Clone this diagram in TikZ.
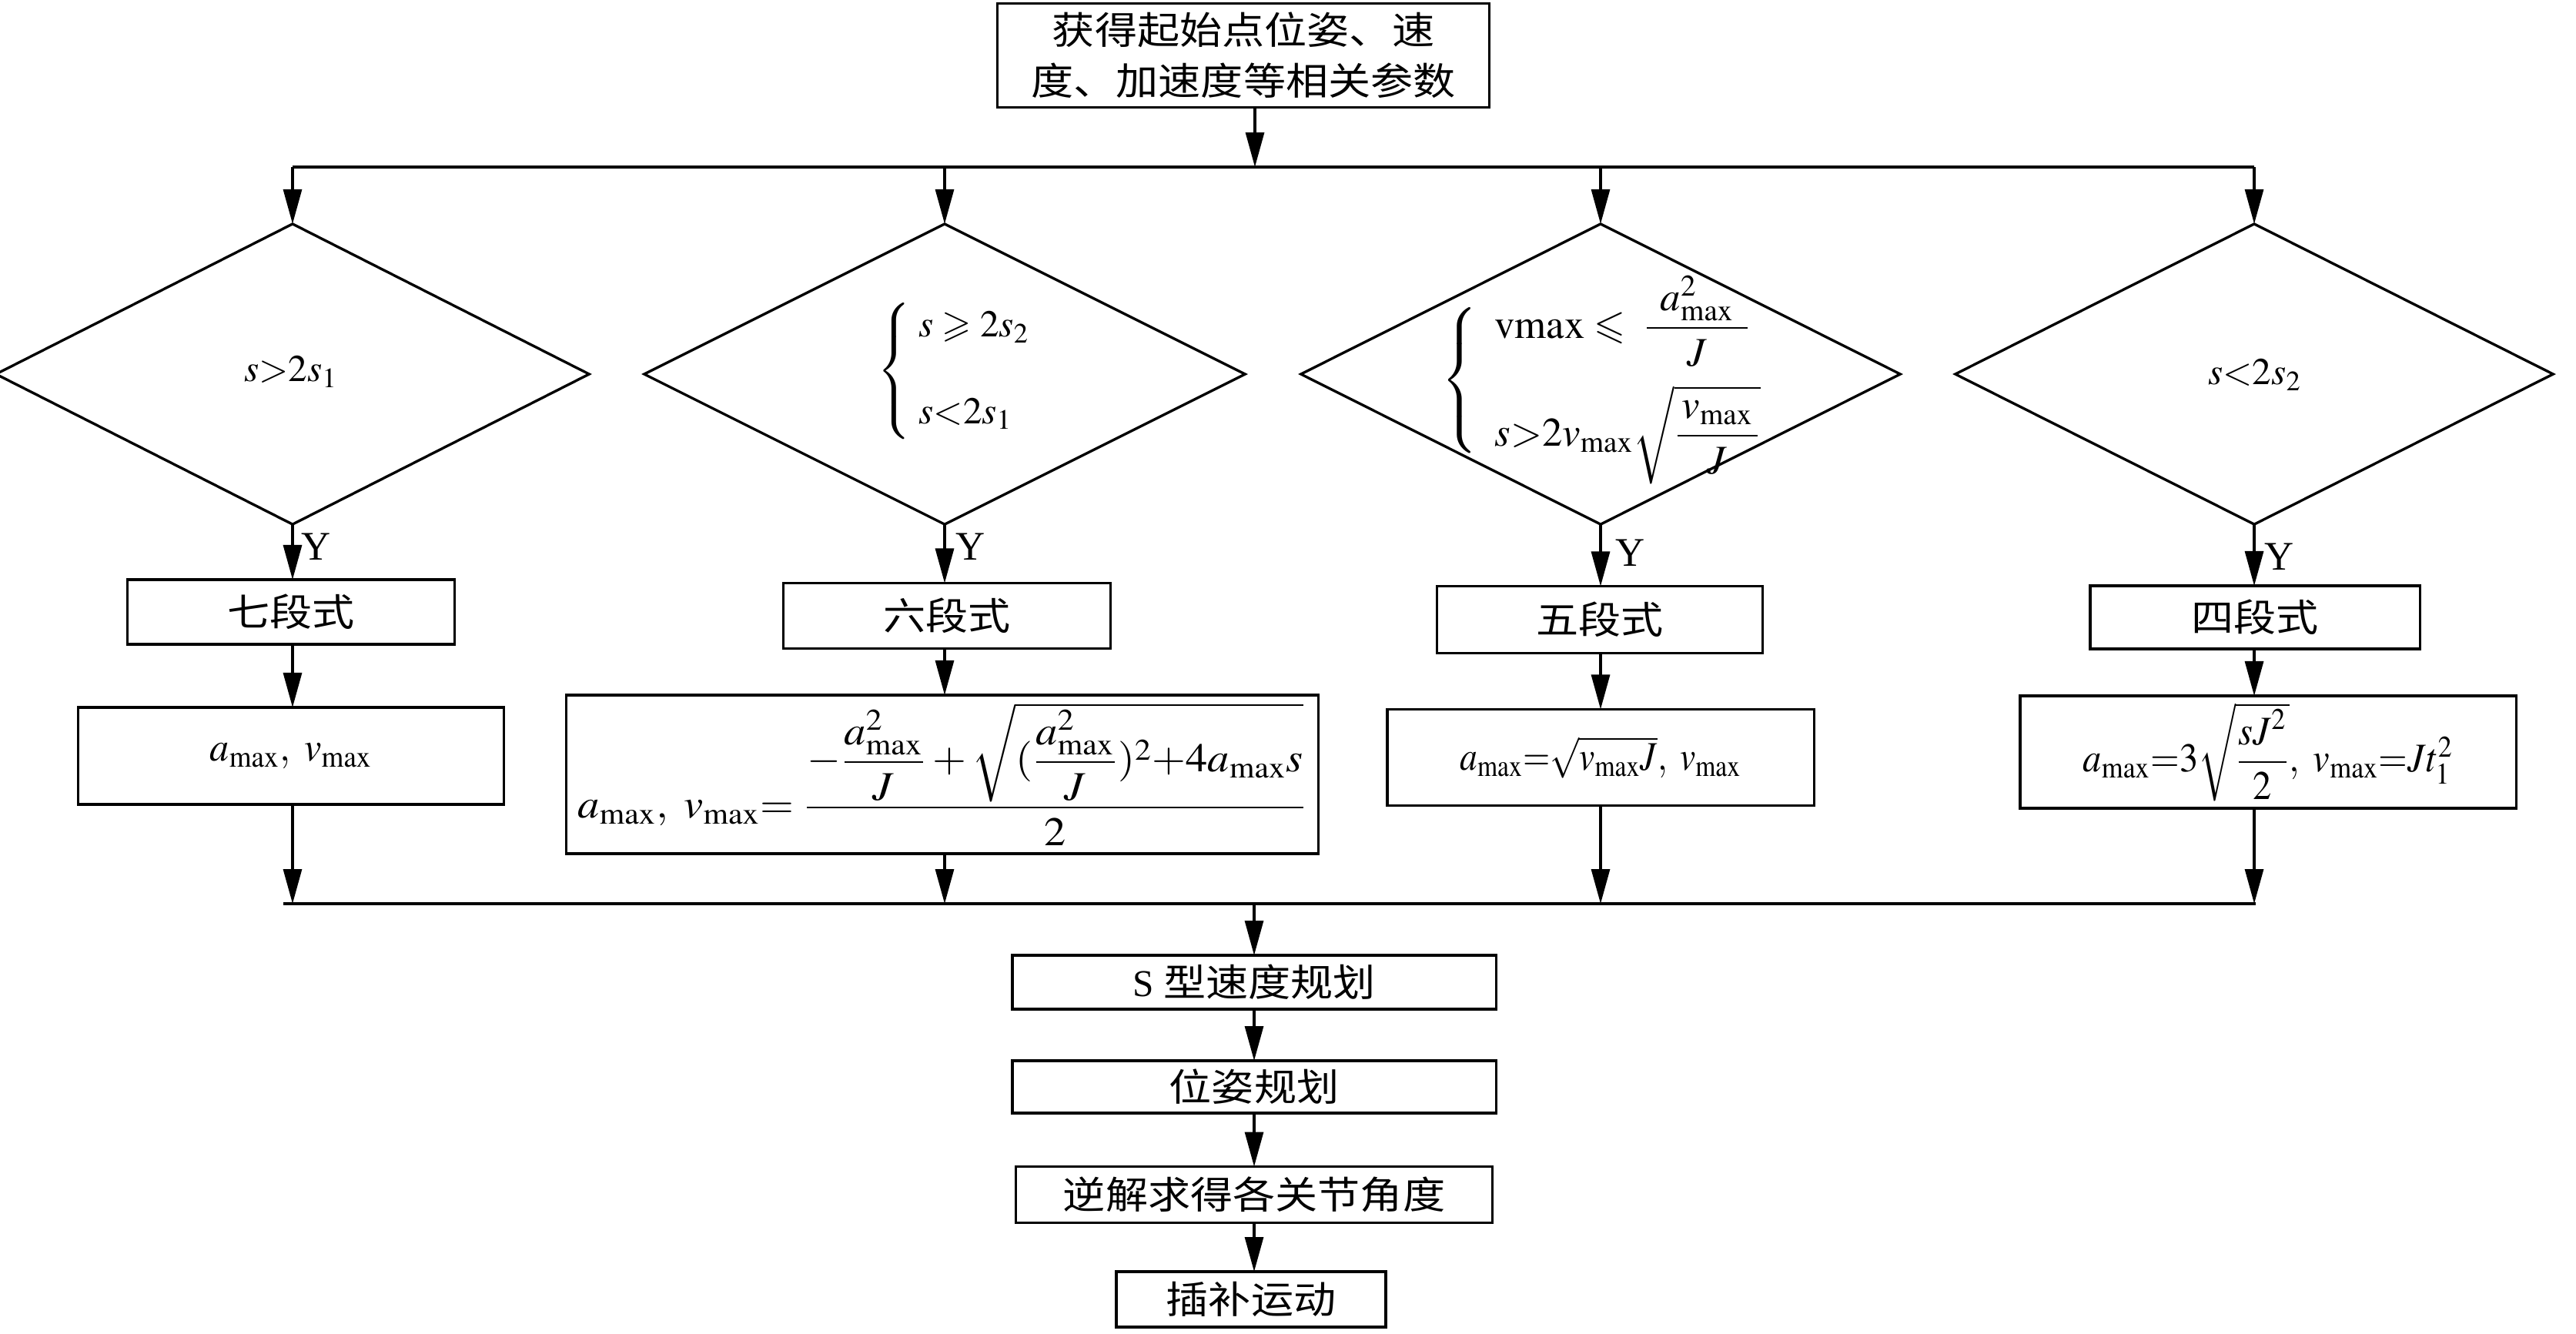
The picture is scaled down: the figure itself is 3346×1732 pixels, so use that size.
\documentclass[tikz,border=0pt]{standalone}
\usepackage{mathptmx}
\usepackage{amsmath,amssymb}
\usepackage{graphicx}
\usepackage{fontspec}
\setmainfont{Liberation Serif}
\newfontfamily\cjk{Noto Sans CJK SC}[FakeStretch=1.12]
\usetikzlibrary{arrows.meta,shapes.geometric}
\newcommand\mx{_{\mathrm{max}}}
\newcommand\sx[2]{\scalebox{#1}[1]{#2}}
\begin{document}
\begin{tikzpicture}[x=0.01cm,y=-0.01cm,line width=0.95pt,
  box/.style={draw,rectangle,inner sep=0pt,outer sep=0pt},
  dia/.style={draw,diamond,inner sep=0pt,outer sep=0pt},
  arr/.style={-{Triangle[length=12.8pt,width=6.8pt]}},
  cjkt/.style={font=\cjk\fontsize{14pt}{18.8pt}\selectfont},
  mth/.style={font=\fontsize{14pt}{17pt}\selectfont},
  mthb/.style={font=\fontsize{15pt}{18pt}\selectfont},
  ylab/.style={font=\fontsize{15pt}{18pt}\selectfont,inner sep=0pt}]
\useasboundingbox (0,0) rectangle (3346,1732);
\fill[white] (0,0) rectangle (3346,1732);

% top box
\node[box,cjkt,align=center,minimum width=6.39cm,minimum height=1.35cm] (top) at (1615,72)
  {获得起始点位姿、速\\度、加速度等相关参数};

% diamonds
\node[dia,minimum width=7.7cm,minimum height=3.9cm] (d1) at (380,486) {};
\node[dia,minimum width=7.8cm,minimum height=3.9cm] (d2) at (1227,486) {};
\node[dia,minimum width=7.78cm,minimum height=3.9cm] (d3) at (2079,486) {};
\node[dia,minimum width=7.76cm,minimum height=3.9cm] (d4) at (2928,486) {};

\node[mth] (d1t) at (378,483) {$s{>}2s_1$};
\node[mth] (d2t) at (1240,482) {$\left\{\;\begin{array}{@{}l@{}}s\geqslant 2s_2\\[15pt] s{<}2s_1\end{array}\right.$};
\node[mthb] (d3t) at (2080,494) {$\left\{\vrule height 25pt depth 25pt width 0pt\right.\;\begin{array}{@{}l@{}}\mathrm{vmax}\leqslant\;\dfrac{\;\,a^2\mx\,\;}{J}\\[12pt] s{>}2v\mx\sqrt{\dfrac{\,v\mx\,}{J}}\end{array}$};
\node[mth] (d4t) at (2929,487) {$s{<}2s_2$};

% Y labels
\node[ylab] (y1) at (411,710) {Y};
\node[ylab] (y2) at (1261,710) {Y};
\node[ylab] (y3) at (2118,718) {Y};
\node[ylab] (y4) at (2960,723) {Y};

% step boxes
\node[box,cjkt,minimum width=4.25cm,minimum height=0.84cm] (b7) at (378,795) {七段式};
\node[box,cjkt,minimum width=4.25cm,minimum height=0.85cm] (b6) at (1230,800) {六段式};
\node[box,cjkt,minimum width=4.23cm,minimum height=0.87cm] (b5) at (2078,805) {五段式};
\node[box,cjkt,minimum width=4.28cm,minimum height=0.82cm] (b4) at (2929,802) {四段式};

% formula boxes
\node[box,mthb,minimum width=5.53cm,minimum height=1.26cm] (f1) at (378,982)
  {\sx{0.95}{$a\mx,\ v\mx$}};
\node[box,mthb,minimum width=9.76cm,minimum height=2.06cm] (f2) at (1224,1006)
  {\sx{1.07}{$a\mx,\ v\mx{=}\;\dfrac{-\dfrac{a^2\mx}{J}+\sqrt{(\dfrac{a^2\mx}{J})^2{+}4a\mx s}}{2}$}};
\node[box,mthb,minimum width=5.54cm,minimum height=1.25cm] (f3) at (2079,984)
  {\sx{0.86}{$a\mx{=}\sqrt{v\mx J},\ v\mx$}};
\node[box,mthb,minimum width=6.44cm,minimum height=1.46cm] (f4) at (2946,977)
  {\sx{0.92}{$a\mx{=}3\sqrt{\dfrac{sJ^2}{2}},\ v\mx{=}Jt_1^2$}};

% bottom chain
\node[box,cjkt,minimum width=6.28cm,minimum height=0.70cm] (s1) at (1629,1276) {{\rmfamily S}\ 型速度规划};
\node[box,cjkt,minimum width=6.28cm,minimum height=0.68cm] (s2) at (1629,1412) {位姿规划};
\node[box,cjkt,minimum width=6.19cm,minimum height=0.73cm] (s3) at (1629,1552) {逆解求得各关节角度};
\node[box,cjkt,minimum width=3.50cm,minimum height=0.72cm] (s4) at (1625,1688) {插补运动};

% connectors
\coordinate (jt) at (1630,217);
\coordinate (jl) at (380,217);
\coordinate (jr) at (2928,217);
\coordinate (bl) at (368,1174);
\coordinate (br) at (2930,1174);
\coordinate (jb) at (1629,1174);

\draw[arr] (top.south -| jt) -- (jt);
\draw (jl) -- (jr);
\draw[arr] (jl) -- (d1.north);
\draw[arr] (d2.north |- jt) -- (d2.north);
\draw[arr] (d3.north |- jt) -- (d3.north);
\draw[arr] (jr) -- (d4.north);

\draw[arr] (d1.south) -- (d1.south |- b7.north);
\draw[arr] (d2.south) -- (d2.south |- b6.north);
\draw[arr] (d3.south) -- (d3.south |- b5.north);
\draw[arr] (d4.south) -- (d4.south |- b4.north);

\draw[arr] (b7.south -| d1.south) -- (f1.north -| d1.south);
\draw[arr] (b6.south -| d2.south) -- (f2.north -| d2.south);
\draw[arr] (b5.south -| d3.south) -- (f3.north -| d3.south);
\draw[arr] (b4.south -| d4.south) -- (f4.north -| d4.south);

\draw (bl) -- (br);
\draw[arr] (f1.south -| d1.south) -- (d1.south |- bl);
\draw[arr] (f2.south -| d2.south) -- (d2.south |- bl);
\draw[arr] (f3.south -| d3.south) -- (d3.south |- bl);
\draw[arr] (f4.south -| d4.south) -- (d4.south |- bl);

\draw[arr] (jb) -- (s1.north);
\draw[arr] (s1.south) -- (s2.north);
\draw[arr] (s2.south) -- (s3.north);
\draw[arr] (s3.south) -- (s3.south |- s4.north);
\end{tikzpicture}
\end{document}
